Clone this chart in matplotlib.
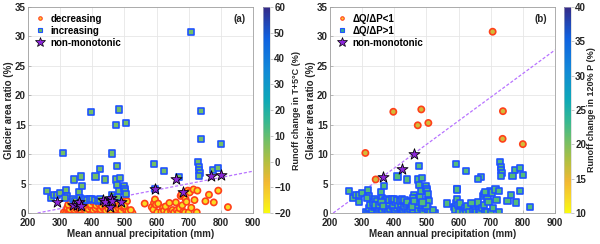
import numpy as np
import matplotlib
matplotlib.use("Agg")
from matplotlib import pyplot as plt
from matplotlib.colors import LinearSegmentedColormap
from matplotlib.lines import Line2D

plt.rcParams['font.family'] = 'Liberation Sans'
plt.rcParams['font.weight'] = 'bold'
plt.rcParams['axes.labelweight'] = 'bold'
plt.rcParams['font.size'] = 7

# basins that decrease in (a) and have dQ/dP>1 in (b)
low_x = [312, 318, 325, 330, 335, 340, 347, 352, 358, 363, 370, 378, 385, 392, 398, 405, 412, 418,
         425, 432, 440, 447, 452, 460, 467, 474, 480, 488, 495, 502, 510, 518, 525,
         322, 330, 338, 345, 350, 362, 372, 380, 388, 396, 403, 410, 418, 426, 434, 442, 450, 458,
         466, 474, 482, 490, 497, 505, 512, 520,
         325, 333, 342, 350, 365, 375, 383, 395, 402, 412, 420, 430, 438, 448, 470, 478, 485, 495,
         505, 508, 500,
         563, 585, 590, 592, 595, 598, 602, 605, 615, 620, 623, 628, 633, 640, 645, 650, 655, 660,
         663, 668, 672, 675, 678, 680, 683, 688, 690, 693, 697, 700, 703, 708, 715, 718, 727, 725,
         752, 763, 778, 792, 822]
low_y = [0.1, 0.0, 0.2, 0.1, 0.0, 0.3, 0.1, 0.0, 0.2, 0.1, 0.0, 0.2, 0.1, 0.3, 0.0, 0.1, 0.2, 0.0,
         0.1, 0.3, 0.0, 0.2, 0.1, 0.0, 0.2, 0.1, 0.3, 0.0, 0.1, 0.2, 0.0, 0.1, 0.0,
         0.9, 0.6, 1.0, 0.5, 0.8, 0.6, 0.9, 0.4, 0.7, 1.0, 0.5, 0.8, 1.1, 0.6, 0.9, 0.4, 0.7, 0.5,
         1.0, 0.6, 0.8, 0.4, 0.9, 0.6, 0.3, 0.5,
         1.4, 1.8, 1.2, 2.0, 1.5, 1.3, 1.7, 1.4, 1.9, 1.3, 1.6, 1.2, 1.5, 1.8, 1.4, 1.9, 1.3, 1.6,
         2.2, 2.0, 1.2,
         1.6, 1.0, 0.6, 1.7, 2.3, 1.4, 0.1, 1.6, 0.2, 0.9, 0.4, 1.1, 0.1, 1.7, 0.3, 0.5, 0.1, 1.8,
         0.5, 0.1, 0.8, 2.9, 3.2, 1.3, 0.2, 0.1, 2.4, 1.9, 3.8, 0.1, 3.5, 0.9, 4.0, 2.2, 3.8, 0.1,
         2.0, 3.1, 1.8, 3.8, 1.0]

# basins increasing in (a), dQ/dP>1 in (b)
inc_x = [258, 272, 282, 290, 300, 318, 322, 315, 340, 345, 358, 362, 368, 370, 378, 385, 392, 400,
         408, 410, 418, 425, 440, 445, 462, 470, 473, 478, 480, 483, 485, 499, 500, 502, 505, 476,
         593, 595, 623, 670, 730, 733, 733, 734, 732, 775, 790]
inc_y = [3.7, 2.5, 3.0, 3.0, 3.4, 3.9, 2.9, 2.5, 2.4, 2.1, 3.6, 2.5, 4.6, 2.2, 2.3, 2.2, 2.4, 2.4,
         2.2, 6.2, 2.0, 2.3, 5.7, 2.0, 3.0, 2.6, 5.7, 4.8, 2.7, 3.7, 6.0, 4.6, 4.1, 3.7, 3.2, 8.0,
         8.3, 4.1, 7.1, 6.1, 8.6, 7.8, 7.3, 6.8, 6.3, 7.3, 7.7]

# basins increasing in (a), dQ/dP<1 in (b)
high_x = [310, 342, 397, 473, 484, 506, 706, 738, 737, 800]
high_y = [10.2, 5.7, 17.2, 14.9, 17.6, 15.3, 30.8, 17.3, 12.6, 11.7]

# non-monotonic in (a)
nma_x = [290, 340, 352, 360, 365, 432, 440, 455, 458, 462, 488, 595, 660, 683, 768, 800]
nma_y = [1.9, 1.4, 1.3, 1.9, 1.2, 2.2, 1.9, 1.1, 2.5, 2.0, 1.8, 4.0, 5.8, 3.6, 6.3, 6.5]

# non-monotonic in (b)
nmb_x = [366, 424, 462]
nmb_y = [6.2, 7.5, 10.1]

# runoff change values used for marker fill
c_low_a = -15
c_inc_a = 8
c_low_b = 22
c_high_b = 16

parula = [(0.208, 0.166, 0.529), (0.06, 0.38, 0.88), (0.07, 0.53, 0.85), (0.05, 0.66, 0.72),
          (0.20, 0.72, 0.58), (0.45, 0.75, 0.40), (0.70, 0.75, 0.25), (0.95, 0.72, 0.20),
          (0.97, 0.85, 0.15), (0.976, 0.983, 0.054)]
pos = [0.0, 0.15, 0.3, 0.45, 0.55, 0.65, 0.75, 0.85, 0.93, 1.0]
cmap = LinearSegmentedColormap.from_list("parula_r", list(zip([1 - p for p in pos[::-1]], parula[::-1])))

circ_edge = (1.0, 0.25, 0.1)
sq_edge = (0.12, 0.32, 1.0)
star_col = (0.55, 0.15, 0.85)
line_col = (0.72, 0.45, 1.0)
txt_col = '#262626'

fig = plt.figure(figsize=(6, 2.44), dpi=100)
ax_pos = [[28/600, 31/244, 225/600, 206/244], [330/600, 31/244, 225/600, 206/244]]
cb_pos = [[263/600, 31/244, 7/600, 206/244], [564/600, 31/244, 7/600, 206/244]]


def setup(ax):
    ax.set_xlim(200, 900)
    ax.set_ylim(0, 35)
    ax.set_xticks(range(200, 901, 100))
    ax.set_yticks(range(0, 36, 5))
    ax.grid(True, color='#e6e6e6', linewidth=0.6)
    ax.set_axisbelow(True)
    for s in ax.spines.values():
        s.set_color('#a0a0a0')
        s.set_linewidth(0.6)
    ax.tick_params(direction='in', length=2, width=0.5, color='#a0a0a0', pad=1.5,
                   labelcolor=txt_col, labelsize=7)
    ax.tick_params(axis='x', pad=3.5)
    for t in ax.get_xticklabels() + ax.get_yticklabels():
        t.set_fontweight('bold')
    ax.set_xlabel('Mean annual precipitation (mm)', fontsize=7, fontweight='bold', labelpad=1, color=txt_col)
    ax.set_ylabel('Glacier area ratio (%)', fontsize=7, fontweight='bold', labelpad=1, color=txt_col)


def cbar(sc, idx, ticks, label):
    cax = fig.add_axes(cb_pos[idx])
    cb = fig.colorbar(sc, cax=cax, ticks=ticks)
    cb.outline.set_edgecolor('#cccccc')
    cb.outline.set_linewidth(0.4)
    cax.tick_params(length=2, width=0.4, color='#999999', pad=1, labelcolor=txt_col, labelsize=7)
    for t in cax.get_yticklabels():
        t.set_fontweight('bold')
    cb.set_label(label, fontsize=6.5, fontweight='bold', labelpad=1, color=txt_col)


# ---- panel (a) ----
ax = fig.add_axes(ax_pos[0])
setup(ax)
ax.plot([230, 900], [0, 7.1], linestyle=(0, (2.5, 1.5)), color=line_col, linewidth=0.9, zorder=1)
sc = ax.scatter(low_x, low_y, s=20, c=[c_low_a] * len(low_x), cmap=cmap, vmin=-20, vmax=60,
                marker='o', edgecolors=circ_edge, linewidths=1.2, zorder=3)
sq_x = inc_x + high_x + nmb_x
sq_y = inc_y + high_y + nmb_y
ax.scatter(sq_x, sq_y, s=20, c=[c_inc_a] * len(sq_x), cmap=cmap, vmin=-20, vmax=60,
           marker='s', edgecolors=sq_edge, linewidths=1.2, zorder=3)
ax.scatter(nma_x, nma_y, s=70, c=[star_col], marker='*', edgecolors='black', linewidths=0.6, zorder=4)
ax.text(858, 32.9, '(a)', ha='center', va='center', fontsize=7, fontweight='bold', color=txt_col)
handles = [Line2D([], [], marker='o', ls='', ms=2.5, mfc='#ffcc33', mec=circ_edge, mew=0.8),
           Line2D([], [], marker='s', ls='', ms=2.5, mfc='#66bb66', mec=sq_edge, mew=0.8),
           Line2D([], [], marker='*', ls='', ms=7.5, mfc=star_col, mec='black', mew=0.5)]
leg = ax.legend(handles, ['decreasing', 'increasing', 'non-monotonic'], loc='upper left', frameon=False,
                fontsize=7, handlelength=1.0, handletextpad=0.6, labelspacing=0.2, borderaxespad=0.3)
for t in leg.get_texts():
    t.set_fontweight('bold')
cbar(sc, 0, range(-20, 61, 10), 'Runoff change in T+5°C (%)')

# ---- panel (b) ----
ax = fig.add_axes(ax_pos[1])
setup(ax)
ax.plot([210, 900], [0, 27.7], linestyle=(0, (2.5, 1.5)), color=line_col, linewidth=0.9, zorder=1)
sq_x = low_x + inc_x + nma_x
sq_y = low_y + inc_y + nma_y
sc = ax.scatter(sq_x, sq_y, s=20, c=[c_low_b] * len(sq_x), cmap=cmap, vmin=10, vmax=40,
                marker='s', edgecolors=sq_edge, linewidths=1.2, zorder=3)
ax.scatter(high_x, high_y, s=20, c=[c_high_b] * len(high_x), cmap=cmap, vmin=10, vmax=40,
           marker='o', edgecolors=circ_edge, linewidths=1.2, zorder=3)
ax.scatter(nmb_x, nmb_y, s=70, c=[star_col], marker='*', edgecolors='black', linewidths=0.6, zorder=4)
ax.text(855, 32.9, '(b)', ha='center', va='center', fontsize=7, fontweight='bold', color=txt_col)
handles = [Line2D([], [], marker='o', ls='', ms=2.5, mfc='#ffcc33', mec=circ_edge, mew=0.8),
           Line2D([], [], marker='s', ls='', ms=2.5, mfc='#33aa99', mec=sq_edge, mew=0.8),
           Line2D([], [], marker='*', ls='', ms=7.5, mfc=star_col, mec='black', mew=0.5)]
leg = ax.legend(handles, ['ΔQ/ΔP<1', 'ΔQ/ΔP>1', 'non-monotonic'], loc='upper left', frameon=False,
                fontsize=7, handlelength=1.0, handletextpad=0.6, labelspacing=0.2, borderaxespad=0.3)
for t in leg.get_texts():
    t.set_fontweight('bold')
cbar(sc, 1, range(10, 41, 5), 'Runoff change in 120% P (%)')

fig.savefig('out.png', dpi=100)
